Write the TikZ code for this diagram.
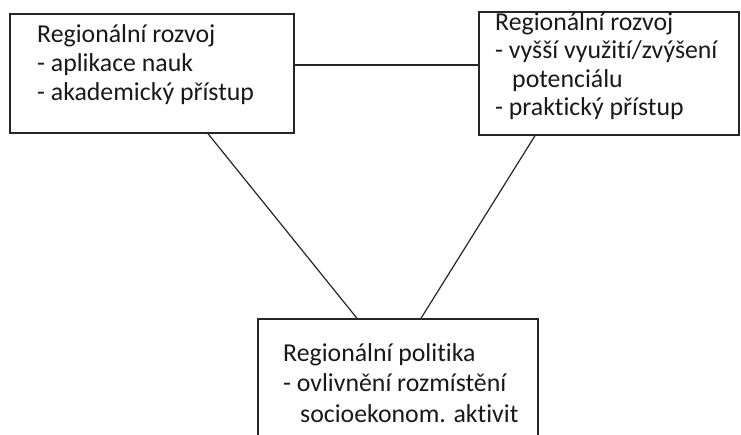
\documentclass[tikz,border=0pt]{standalone}
\usepackage{fontspec}
\setmainfont[Ligatures=NoCommon]{Carlito}
\begin{document}
\begin{tikzpicture}[x=1pt,y=-1pt,
  boxstyle/.style={draw=black!85,line width=1.4pt,rectangle,inner sep=0pt},
  txt/.style={anchor=base west,inner sep=0pt,font=\fontsize{25.8}{29}\selectfont,text=black!90},
  conn/.style={draw=black!85,line width=1.2pt}]
\clip (0,0) rectangle (741,434);
\fill[white] (0,0) rectangle (741,434);
% boxes
\node[boxstyle,minimum width=284pt,minimum height=119pt] (b1) at (152,73.5) {};
\node[boxstyle,minimum width=260pt,minimum height=123pt] (b2) at (609,73.5) {};
\node[boxstyle,minimum width=280pt,minimum height=160pt] (b3) at (398,399) {};
% texts box 1
\node[txt] (t11) at (37,42) {Regionální rozvoj};
\node[txt] (t12) at (37,71) {- aplikace nauk};
\node[txt] (t13) at (37,100) {- akademický přístup};
% texts box 2
\node[txt] (t21) at (495,30) {Regionální rozvoj};
\node[txt] (t22) at (495,58.5) {- vyšší využití/zvýšení};
\node[txt] (t23) at (512,87) {potenciálu};
\node[txt] (t24) at (495,115.5) {- praktický přístup};
% texts box 3
\node[txt] (t31) at (283,361) {Regionální politika};
\node[txt] (t32) at (283,391.5) {- ovlivnění rozmístění};
\node[txt] (t33) at (300,422) {socioekonom. aktivit};
% connectors
\draw[conn] ([yshift=8.5pt]b1.east) -- ([yshift=8.5pt]b2.west);
\draw[conn] ([xshift=56pt]b1.south) -- ([xshift=-41pt]b3.north);
\draw[conn] ([xshift=-74pt]b2.south) -- ([xshift=23pt]b3.north);
\end{tikzpicture}
\end{document}
